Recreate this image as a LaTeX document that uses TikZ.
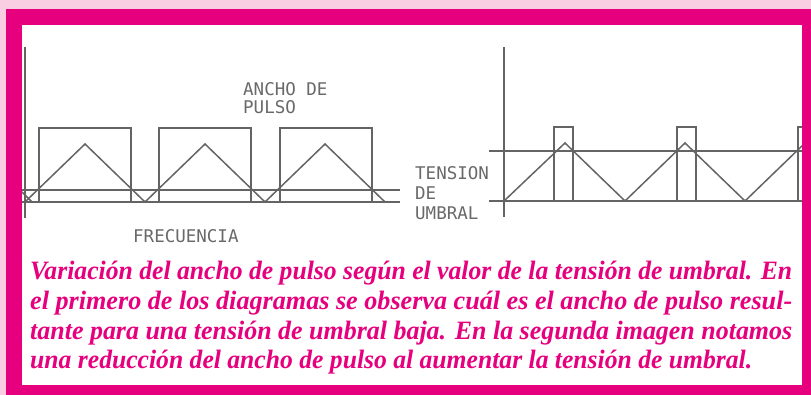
\documentclass[tikz,border=0pt]{standalone}
\usepackage{fontspec}
\usepackage{graphicx}
\setmainfont{Liberation Serif}
\newfontfamily\cadfont{DejaVu Sans Mono}
\definecolor{mag}{RGB}{230,0,126}
\definecolor{pinkbg}{RGB}{249,206,226}
\definecolor{ink}{RGB}{100,100,100}
\definecolor{labelgray}{RGB}{105,105,105}
\begin{document}
\begin{tikzpicture}[x=1pt,y=-1pt,
  sig/.style={draw=ink,line width=1.5pt,line join=miter},
  cadlabel/.style={font=\cadfont\fontsize{17.5}{18}\selectfont,text=labelgray,inner sep=0pt,anchor=base west},
  caption/.style={font=\bfseries\itshape\fontsize{26.5}{30}\selectfont,text=mag,inner sep=0pt,anchor=base west}]
\useasboundingbox (0,0) rectangle (811,395);
% frame
\fill[pinkbg] (0,0) rectangle (811,395);
\fill[mag] (6,9) rectangle (811,395);
\fill[white] (22,25) rectangle (802,385);

% ---------- left diagram ----------
\draw[sig] (25,47) -- (25,218);
\draw[sig] (22,190) -- (400,190);
\draw[sig] (22,202) -- (400,202);
\draw[sig] (22,192) -- (32,202);
\draw[sig] (25,202) -- (85,144) -- (145,202) -- (205,144) -- (265,202) -- (325,144) -- (385,202);
\draw[sig] (39,202) -- (39,128) -- (131,128) -- (131,202);
\draw[sig] (159,202) -- (159,128) -- (251,128) -- (251,202);
\draw[sig] (280,202) -- (280,128) -- (372,128) -- (372,202);

\node[cadlabel] (ancho) at (243,96) {ANCHO DE};
\node[cadlabel] (pulso) at (243,114) {PULSO};
\node[cadlabel] (frec) at (133,243) {FRECUENCIA};
\node[cadlabel] (tens) at (415,180) {TENSION};
\node[cadlabel] (de) at (415,200) {DE};
\node[cadlabel] (umbral) at (415,220) {UMBRAL};

% ---------- right diagram ----------
\begin{scope}
\clip (22,25) rectangle (802,385);
\draw[sig] (504,47) -- (504,217);
\draw[sig] (489,151) -- (802,151);
\draw[sig] (489,201) -- (802,201);
\draw[sig] (504,201) -- (565,143) -- (625,201) -- (685,143) -- (745,201) -- (805,143) -- (820,157);
\draw[sig] (554,201) -- (554,127) -- (573,127) -- (573,201);
\draw[sig] (677,201) -- (677,127) -- (696,127) -- (696,201);
\draw[sig] (798,201) -- (798,127) -- (817,127) -- (817,201);
\end{scope}

% ---------- caption ----------
\node[caption] (c1) at (30,280) {\resizebox{762pt}{\height}{Variación del ancho de pulso según el valor de la tensión de umbral. En}};
\node[caption] (c2) at (30,309) {\resizebox{762pt}{\height}{el primero de los diagramas se observa cuál es el ancho de pulso resul-}};
\node[caption] (c3) at (30,339) {\resizebox{762pt}{\height}{tante para una tensión de umbral baja. En la segunda imagen notamos}};
\node[caption] (c4) at (30,368) {\resizebox{722pt}{\height}{una reducción del ancho de pulso al aumentar la tensión de umbral.}};
\end{tikzpicture}
\end{document}
